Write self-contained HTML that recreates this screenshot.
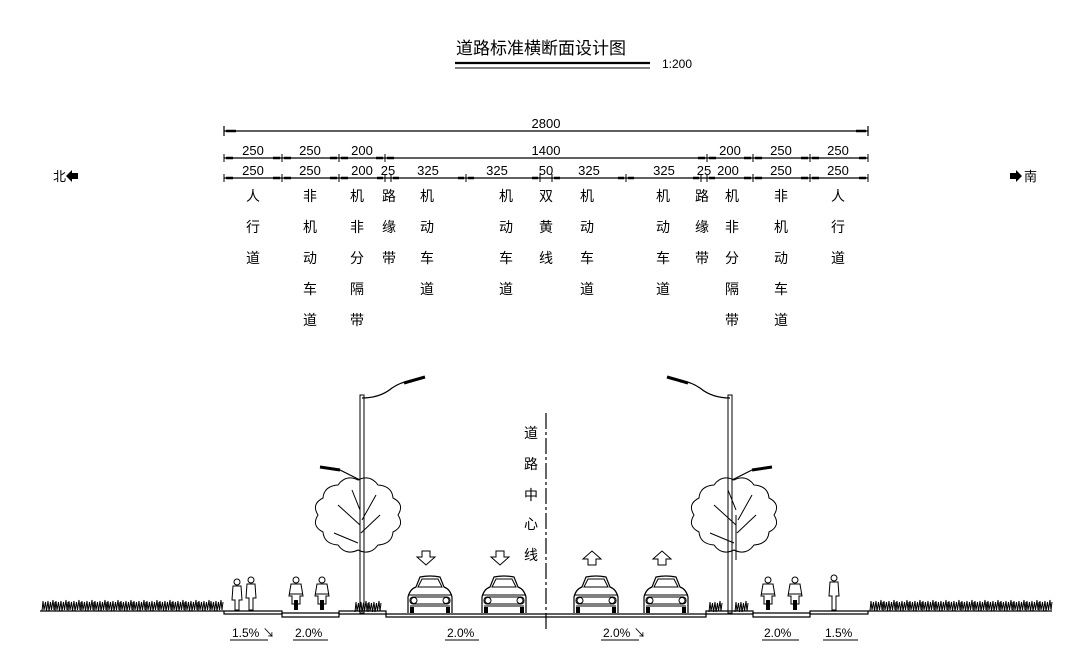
<!DOCTYPE html>
<html><head><meta charset="utf-8"><style>
html,body{margin:0;padding:0;background:#fff}
svg{display:block}
text{font-family:"Liberation Sans","Noto Sans CJK SC",sans-serif;fill:#000}
.n{font-size:13px;text-anchor:middle}
.c{font-size:14px;text-anchor:middle}
</style></head><body>
<svg width="1080" height="665" viewBox="0 0 1080 665" xmlns="http://www.w3.org/2000/svg">
<defs>
<g id="car">
<path d="M4 38 L4 22 Q6 14 12 12 L16 2 Q26 0 36 2 L40 12 Q46 14 48 22 L48 38" fill="#fff" stroke="#000" stroke-width="1.2"/>
<path d="M14 12 L18 4 L34 4 L38 12 Z" fill="none" stroke="#000"/>
<line x1="4" y1="20" x2="48" y2="20" stroke="#000"/>
<rect x="6" y="22" width="40" height="7" rx="3" fill="none" stroke="#000"/>
<circle cx="10" cy="25.5" r="3" fill="none" stroke="#000"/><circle cx="42" cy="25.5" r="3" fill="none" stroke="#000"/>
<line x1="6" y1="31" x2="46" y2="31" stroke="#000"/>
<rect x="6" y="32" width="4" height="6" fill="#000"/><rect x="42" y="32" width="4" height="6" fill="#000"/>
</g>
<g id="bike">
<circle cx="0" cy="-30" r="3" fill="none" stroke="#000"/>
<path d="M-5 -26 L5 -26 L7 -14 L4 -14 L4 -6 L-4 -6 L-4 -14 L-7 -14 Z" fill="none" stroke="#000"/>
<line x1="-7" y1="-16" x2="7" y2="-16" stroke="#000"/>
<rect x="-2" y="-10" width="4" height="10" fill="#000"/>
</g>
<g id="grass">
<path d="M0 12 l1 -10 l1 9 l1.5 -8 l1 9 l1.5 -10 l1 10 l1.5 -9 l1 8 l1.5 -10 l1 10 l1 -8" fill="none" stroke="#000" stroke-width="1"/>
</g>
<g id="tree">
<path d="M40 0 Q47 -11 35 -17 Q34 -29 20 -30 Q12 -41 0 -35 Q-12 -41 -20 -30 Q-34 -29 -35 -17 Q-47 -11 -40 0 Q-47 11 -35 17 Q-34 29 -20 30 Q-12 41 0 35 Q12 41 20 30 Q34 29 35 17 Q47 11 40 0 Z" fill="none" stroke="#000" stroke-width="1"/>
<path d="M2 45 L2 0 M2 10 L-20 -10 M3 18 L22 0 M0 28 L-24 18 M2 -5 L-6 -25 M4 5 L18 -20" fill="none" stroke="#000" stroke-width="1"/>
</g>
</defs>

<!-- title -->
<text x="541" y="54" style="font-size:17px;text-anchor:middle">道路标准横断面设计图</text>
<line x1="455" y1="63" x2="650" y2="63" stroke="#000" stroke-width="2.2"/>
<line x1="455" y1="68" x2="650" y2="68" stroke="#000" stroke-width="1"/>
<text x="662" y="68" style="font-size:12px">1:200</text>

<!-- north/south -->
<text x="53" y="181" style="font-size:13px">北</text>
<path d="M66 176 L72 170 L72 173 L78 173 L78 179 L72 179 L72 182 Z" fill="#000"/>
<path d="M1022 176 L1016 170 L1016 173 L1010 173 L1010 179 L1016 179 L1016 182 Z" fill="#000"/>
<text x="1024" y="181" style="font-size:13px">南</text>

<!-- dimension lines -->
<g stroke="#000" stroke-width="1.2" fill="none">
<line x1="224" y1="131" x2="868" y2="131"/>
<line x1="224" y1="126" x2="224" y2="136"/><line x1="868" y1="126" x2="868" y2="136"/>
<line x1="224" y1="158" x2="868" y2="158"/>
<line x1="224" y1="178" x2="868" y2="178"/>
</g>
<g stroke="#000" stroke-width="2.5">
<line x1="226" y1="131" x2="236" y2="131"/><line x1="856" y1="131" x2="866" y2="131"/>
</g>
<g stroke="#000" stroke-width="1">
<line x1="224" y1="154" x2="224" y2="162"/><line x1="282" y1="154" x2="282" y2="162"/><line x1="339" y1="154" x2="339" y2="162"/><line x1="385" y1="154" x2="385" y2="162"/><line x1="707" y1="154" x2="707" y2="162"/><line x1="753" y1="154" x2="753" y2="162"/><line x1="810" y1="154" x2="810" y2="162"/><line x1="868" y1="154" x2="868" y2="162"/>
<line x1="224" y1="174" x2="224" y2="182"/><line x1="282" y1="174" x2="282" y2="182"/><line x1="339" y1="174" x2="339" y2="182"/><line x1="385" y1="174" x2="385" y2="182"/><line x1="391" y1="174" x2="391" y2="182"/><line x1="466" y1="174" x2="466" y2="182"/><line x1="540" y1="174" x2="540" y2="182"/><line x1="552" y1="174" x2="552" y2="182"/><line x1="626" y1="174" x2="626" y2="182"/><line x1="701" y1="174" x2="701" y2="182"/><line x1="707" y1="174" x2="707" y2="182"/><line x1="753" y1="174" x2="753" y2="182"/><line x1="810" y1="174" x2="810" y2="182"/><line x1="868" y1="174" x2="868" y2="182"/>
</g>
<g stroke="#000" stroke-width="2.5">
<path d="M226 158h7M273 158h7M284 158h7M330 158h7M341 158h7M376 158h7M387 158h7M698 158h7M709 158h7M744 158h7M755 158h7M801 158h7M812 158h7M859 158h7"/>
<path d="M226 178h7M273 178h7M284 178h7M330 178h7M341 178h7M377 178h6M393 178h6M458 178h6M468 178h6M532 178h6M554 178h6M618 178h6M628 178h6M693 178h6M709 178h6M744 178h7M755 178h7M801 178h7M812 178h7M859 178h7"/>
</g>
<g class="n">
<text x="546" y="128">2800</text>
<text x="253" y="155">250</text><text x="310" y="155">250</text><text x="362" y="155">200</text><text x="546" y="155">1400</text><text x="730" y="155">200</text><text x="781" y="155">250</text><text x="838" y="155">250</text>
<text x="253" y="175">250</text><text x="310" y="175">250</text><text x="362" y="175">200</text><text x="388" y="175">25</text><text x="428" y="175">325</text><text x="497" y="175">325</text><text x="546" y="175">50</text><text x="589" y="175">325</text><text x="664" y="175">325</text><text x="704" y="175">25</text><text x="728" y="175">200</text><text x="781" y="175">250</text><text x="838" y="175">250</text>
</g>

<!-- vertical labels -->
<g class="c">
<text x="253" y="201">人</text><text x="253" y="232">行</text><text x="253" y="263">道</text>
<text x="310" y="201">非</text><text x="310" y="232">机</text><text x="310" y="263">动</text><text x="310" y="294">车</text><text x="310" y="325">道</text>
<text x="357" y="201">机</text><text x="357" y="232">非</text><text x="357" y="263">分</text><text x="357" y="294">隔</text><text x="357" y="325">带</text>
<text x="389" y="201">路</text><text x="389" y="232">缘</text><text x="389" y="263">带</text>
<text x="427" y="201">机</text><text x="427" y="232">动</text><text x="427" y="263">车</text><text x="427" y="294">道</text>
<text x="506" y="201">机</text><text x="506" y="232">动</text><text x="506" y="263">车</text><text x="506" y="294">道</text>
<text x="546" y="201">双</text><text x="546" y="232">黄</text><text x="546" y="263">线</text>
<text x="587" y="201">机</text><text x="587" y="232">动</text><text x="587" y="263">车</text><text x="587" y="294">道</text>
<text x="663" y="201">机</text><text x="663" y="232">动</text><text x="663" y="263">车</text><text x="663" y="294">道</text>
<text x="702" y="201">路</text><text x="702" y="232">缘</text><text x="702" y="263">带</text>
<text x="732" y="201">机</text><text x="732" y="232">非</text><text x="732" y="263">分</text><text x="732" y="294">隔</text><text x="732" y="325">带</text>
<text x="781" y="201">非</text><text x="781" y="232">机</text><text x="781" y="263">动</text><text x="781" y="294">车</text><text x="781" y="325">道</text>
<text x="838" y="201">人</text><text x="838" y="232">行</text><text x="838" y="263">道</text>
</g>

<!-- center line -->
<line x1="546" y1="413" x2="546" y2="632" stroke="#000" stroke-width="1.2" stroke-dasharray="16,3,3,3"/>
<g class="c"><text x="531" y="438">道</text><text x="531" y="469">路</text><text x="531" y="500">中</text><text x="531" y="529">心</text><text x="531" y="560">线</text></g>

<!-- ground -->
<g stroke="#000" stroke-width="1.2" fill="none">
<line x1="40" y1="611" x2="224" y2="611"/>
<path d="M224 611 H282 V614 H224 Z"/>
<path d="M282 613 H339 V617 H282 Z"/>
<path d="M339 611 H386 V614 H339 Z"/>
<path d="M386 614 H706 V617 H386 Z"/>
<path d="M706 611 H753 V614 H706 Z"/>
<path d="M753 613 H810 V617 H753 Z"/>
<path d="M810 611 H868 V614 H810 Z"/>
<line x1="868" y1="611" x2="1052" y2="611"/>
</g>
<!-- grass -->
<g>
<use href="#grass" x="42" y="599"/><use href="#grass" x="55" y="599"/><use href="#grass" x="68" y="599"/><use href="#grass" x="81" y="599"/><use href="#grass" x="94" y="599"/><use href="#grass" x="107" y="599"/><use href="#grass" x="120" y="599"/><use href="#grass" x="133" y="599"/><use href="#grass" x="146" y="599"/><use href="#grass" x="159" y="599"/><use href="#grass" x="172" y="599"/><use href="#grass" x="185" y="599"/><use href="#grass" x="198" y="599"/><use href="#grass" x="210" y="599"/>
<use href="#grass" x="870" y="599"/><use href="#grass" x="883" y="599"/><use href="#grass" x="896" y="599"/><use href="#grass" x="909" y="599"/><use href="#grass" x="922" y="599"/><use href="#grass" x="935" y="599"/><use href="#grass" x="948" y="599"/><use href="#grass" x="961" y="599"/><use href="#grass" x="974" y="599"/><use href="#grass" x="987" y="599"/><use href="#grass" x="1000" y="599"/><use href="#grass" x="1013" y="599"/><use href="#grass" x="1026" y="599"/><use href="#grass" x="1039" y="599"/>
<use href="#grass" x="355" y="600"/><use href="#grass" x="368" y="600"/>
<use href="#grass" x="709" y="600"/><use href="#grass" x="735" y="600"/>
</g>

<!-- trees -->
<use href="#tree" x="358" y="515"/>
<use href="#tree" x="734" y="515"/>

<!-- lamps -->
<g stroke="#000" fill="none">
<rect x="360" y="395" width="4" height="218" stroke-width="1"/>
<path d="M362 398 Q380 398 392 388 Q404 380 412 382" stroke-width="1.2"/>
<line x1="404" y1="383" x2="425" y2="377" stroke-width="3"/>
<path d="M360 480 Q350 475 340 470" stroke-width="1.2"/>
<line x1="340" y1="470" x2="320" y2="467" stroke-width="3"/>
<rect x="728" y="395" width="4" height="218" stroke-width="1"/>
<path d="M730 398 Q712 398 700 388 Q688 380 680 382" stroke-width="1.2"/>
<line x1="688" y1="383" x2="667" y2="377" stroke-width="3"/>
<path d="M732 480 Q742 475 752 470" stroke-width="1.2"/>
<line x1="752" y1="470" x2="772" y2="467" stroke-width="3"/>
</g>

<!-- cars -->
<use href="#car" x="404" y="575"/><use href="#car" x="478" y="575"/><use href="#car" x="570" y="575"/><use href="#car" x="640" y="575"/>
<!-- arrows -->
<g fill="#fff" stroke="#000" stroke-width="1">
<path d="M422 551 h8 v6 h5 l-9 8 l-9 -8 h5 z"/>
<path d="M496 551 h8 v6 h5 l-9 8 l-9 -8 h5 z"/>
<path d="M588 565 h8 v-6 h5 l-9 -8 l-9 8 h5 z"/>
<path d="M658 565 h8 v-6 h5 l-9 -8 l-9 8 h5 z"/>
</g>

<!-- cyclists / pedestrians -->
<use href="#bike" x="296" y="610"/><use href="#bike" x="322" y="610"/>
<use href="#bike" x="768" y="610"/><use href="#bike" x="795" y="610"/>
<g fill="none" stroke="#000">
<circle cx="237" cy="582" r="3"/><path d="M233 586 h8 l1 14 h-3 v10 h-4 v-10 h-3 z"/>
<circle cx="251" cy="580" r="3"/><path d="M247 584 h8 l1 14 h-3 v12 h-4 v-12 h-3 z"/>
<circle cx="834" cy="578" r="3"/><path d="M830 582 h8 l1 14 h-3 v14 h-4 v-14 h-3 z"/>
</g>

<!-- slope labels -->
<g style="font-size:12px">
<text x="232" y="637">1.5% ↘</text><line x1="230" y1="640" x2="268" y2="640" stroke="#000"/>
<text x="295" y="637">2.0%</text><line x1="293" y1="640" x2="328" y2="640" stroke="#000"/>
<text x="447" y="637">2.0%</text><line x1="445" y1="640" x2="479" y2="640" stroke="#000"/>
<text x="603" y="637">2.0% ↘</text><line x1="601" y1="640" x2="639" y2="640" stroke="#000"/>
<text x="764" y="637">2.0%</text><line x1="762" y1="640" x2="799" y2="640" stroke="#000"/>
<text x="825" y="637">1.5%</text><line x1="823" y1="640" x2="858" y2="640" stroke="#000"/>
</g>
</svg>
</body></html>
